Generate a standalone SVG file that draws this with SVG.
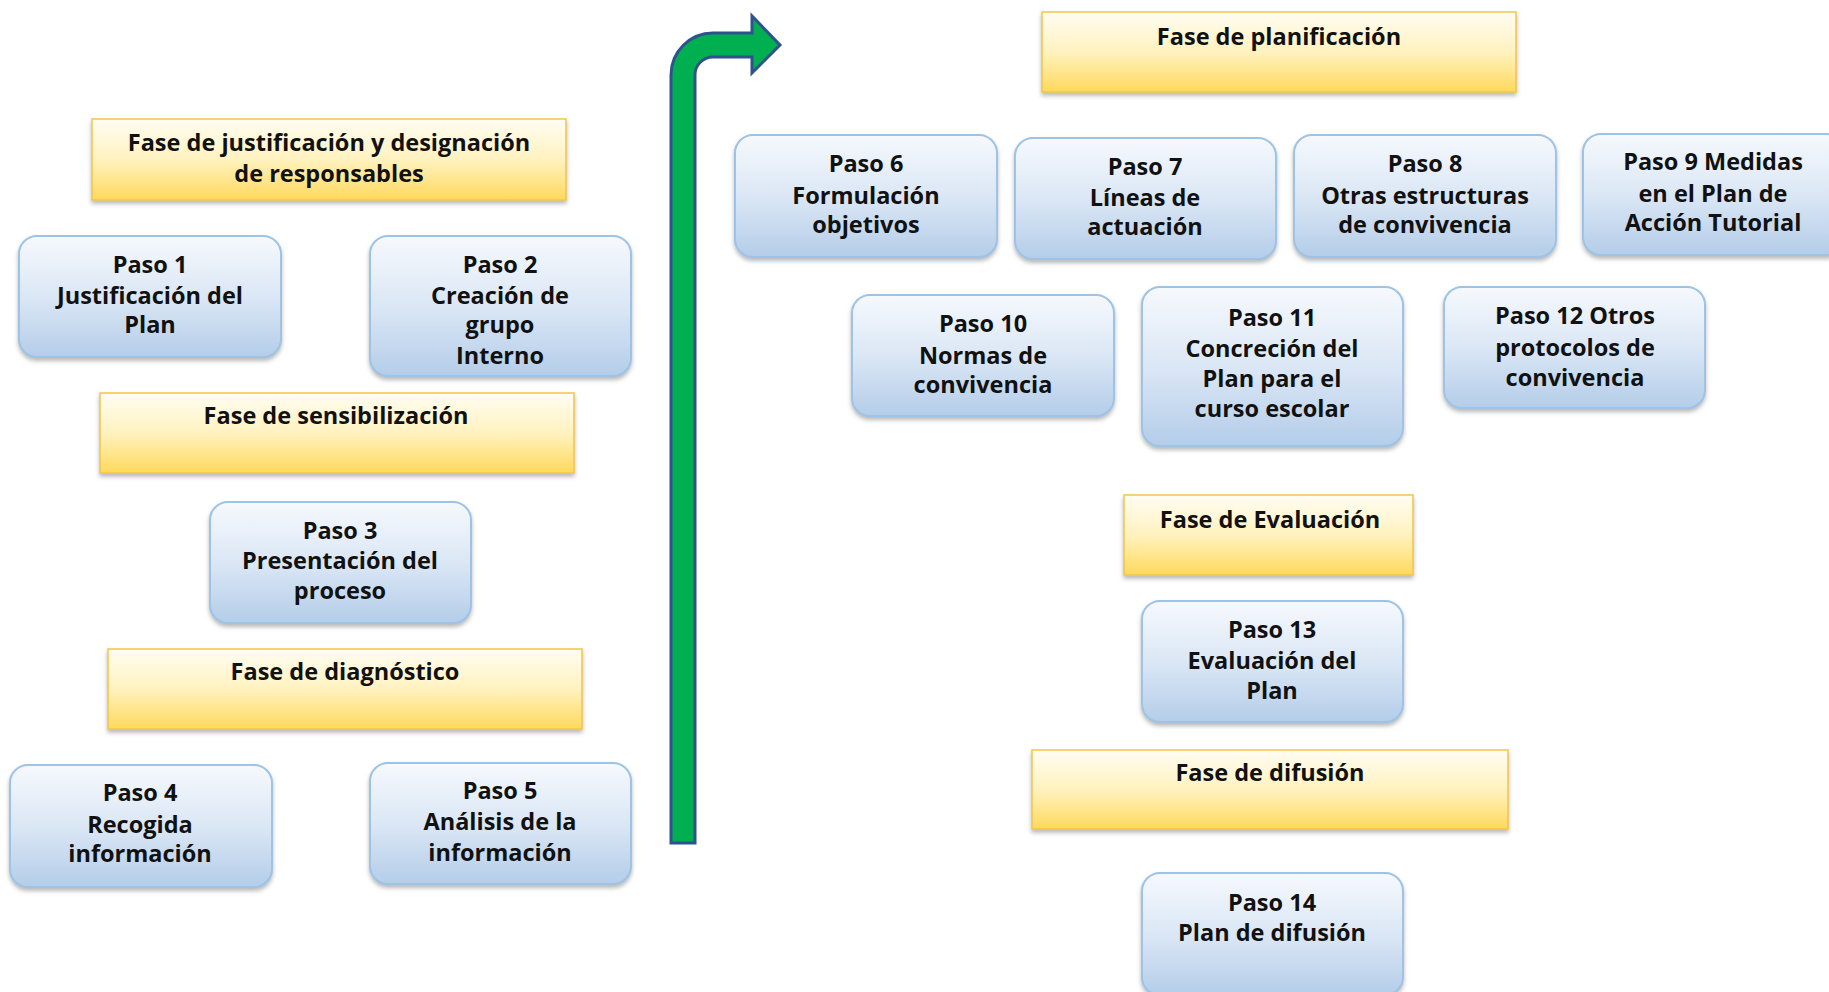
<svg xmlns="http://www.w3.org/2000/svg" width="1829" height="992" viewBox="0 0 1829 992">
<defs>
<linearGradient id="gy" x1="0" y1="0" x2="0" y2="1">
<stop offset="0" stop-color="#fffdf3"/>
<stop offset="0.5" stop-color="#fff2bf"/>
<stop offset="1" stop-color="#ffd95c"/>
</linearGradient>
<linearGradient id="gb" x1="0" y1="0" x2="0" y2="1">
<stop offset="0" stop-color="#f6f9fd"/>
<stop offset="0.5" stop-color="#dbe7f5"/>
<stop offset="1" stop-color="#b4cde9"/>
</linearGradient>
<filter id="sh" x="-10%" y="-10%" width="120%" height="130%">
<feDropShadow dx="0" dy="3" stdDeviation="2" flood-color="#7f7f7f" flood-opacity="0.55"/>
</filter>
</defs>
<style>
.ph{fill:url(#gy);stroke:#f2c64a;stroke-width:1.5;filter:url(#sh)}
.st{fill:url(#gb);stroke:#9dc3e6;stroke-width:2;filter:url(#sh)}
text{font-family:"Open Sans",Lato,"DejaVu Sans",sans-serif;font-weight:700;font-size:23.5px;fill:#111;text-anchor:middle}
</style>
<rect width="1829" height="992" fill="#ffffff"/>

<g id="connectors">
<path d="M671 843 L671 75 A42 42 0 0 1 713 33 L752 33 L752 16 L780 45 L752 73 L752 57 L713 57 A18 18 0 0 0 695 75 L695 843 Z" fill="#00b050" stroke="#2f528f" stroke-width="3" stroke-linejoin="miter"/>
</g>

<g id="fase-justificacion">
<rect class="ph" x="92" y="119" width="474" height="81"/>
<text x="329" y="151">Fase de justificación y designación</text>
<text x="329" y="182">de responsables</text>
</g>
<g id="fase-sensibilizacion">
<rect class="ph" x="100" y="393" width="474" height="80"/>
<text x="336" y="424">Fase de sensibilización</text>
</g>
<g id="fase-diagnostico">
<rect class="ph" x="108" y="649" width="474" height="80"/>
<text x="345" y="680">Fase de diagnóstico</text>
</g>
<g id="fase-planificacion">
<rect class="ph" x="1042" y="12" width="474" height="80"/>
<text x="1279" y="45">Fase de planificación</text>
</g>
<g id="fase-evaluacion">
<rect class="ph" x="1124" y="495" width="289" height="80"/>
<text x="1270" y="528">Fase de Evaluación</text>
</g>
<g id="fase-difusion">
<rect class="ph" x="1032" y="750" width="476" height="79"/>
<text x="1270" y="781">Fase de difusión</text>
</g>

<g id="paso1">
<rect class="st" x="19" y="236" width="262" height="121" rx="18"/>
<text x="150" y="273">Paso 1</text>
<text x="150" y="304">Justificación del</text>
<text x="150" y="333">Plan</text>
</g>
<g id="paso2">
<rect class="st" x="370" y="236" width="261" height="140" rx="18"/>
<text x="500" y="273">Paso 2</text>
<text x="500" y="304">Creación de</text>
<text x="500" y="333">grupo</text>
<text x="500" y="364">Interno</text>
</g>
<g id="paso3">
<rect class="st" x="210" y="502" width="261" height="121" rx="18"/>
<text x="340" y="539">Paso 3</text>
<text x="340" y="569">Presentación del</text>
<text x="340" y="599">proceso</text>
</g>
<g id="paso4">
<rect class="st" x="10" y="765" width="262" height="122" rx="18"/>
<text x="140" y="801">Paso 4</text>
<text x="140" y="833">Recogida</text>
<text x="140" y="862">información</text>
</g>
<g id="paso5">
<rect class="st" x="370" y="763" width="261" height="121" rx="18"/>
<text x="500" y="799">Paso 5</text>
<text x="500" y="830">Análisis de la</text>
<text x="500" y="861">información</text>
</g>
<g id="paso6">
<rect class="st" x="735" y="135" width="262" height="122" rx="18"/>
<text x="866" y="172">Paso 6</text>
<text x="866" y="204">Formulación</text>
<text x="866" y="233">objetivos</text>
</g>
<g id="paso7">
<rect class="st" x="1015" y="138" width="261" height="121" rx="18"/>
<text x="1145" y="175">Paso 7</text>
<text x="1145" y="206">Líneas de</text>
<text x="1145" y="235">actuación</text>
</g>
<g id="paso8">
<rect class="st" x="1294" y="135" width="262" height="122" rx="18"/>
<text x="1425" y="172">Paso 8</text>
<text x="1425" y="204">Otras estructuras</text>
<text x="1425" y="233">de convivencia</text>
</g>
<g id="paso9">
<rect class="st" x="1583" y="134" width="262" height="121" rx="18"/>
<text x="1713" y="170">Paso 9 Medidas</text>
<text x="1713" y="202">en el Plan de</text>
<text x="1713" y="231">Acción Tutorial</text>
</g>
<g id="paso10">
<rect class="st" x="852" y="295" width="262" height="121" rx="18"/>
<text x="983" y="332">Paso 10</text>
<text x="983" y="364">Normas de</text>
<text x="983" y="393">convivencia</text>
</g>
<g id="paso11">
<rect class="st" x="1142" y="287" width="261" height="159" rx="18"/>
<text x="1272" y="326">Paso 11</text>
<text x="1272" y="357">Concreción del</text>
<text x="1272" y="387">Plan para el</text>
<text x="1272" y="417">curso escolar</text>
</g>
<g id="paso12">
<rect class="st" x="1444" y="287" width="261" height="121" rx="18"/>
<text x="1575" y="324">Paso 12 Otros</text>
<text x="1575" y="356">protocolos de</text>
<text x="1575" y="386">convivencia</text>
</g>
<g id="paso13">
<rect class="st" x="1142" y="601" width="261" height="121" rx="18"/>
<text x="1272" y="638">Paso 13</text>
<text x="1272" y="669">Evaluación del</text>
<text x="1272" y="699">Plan</text>
</g>
<g id="paso14">
<rect class="st" x="1142" y="873" width="261" height="122" rx="18"/>
<text x="1272" y="911">Paso 14</text>
<text x="1272" y="941">Plan de difusión</text>
</g>
</svg>
